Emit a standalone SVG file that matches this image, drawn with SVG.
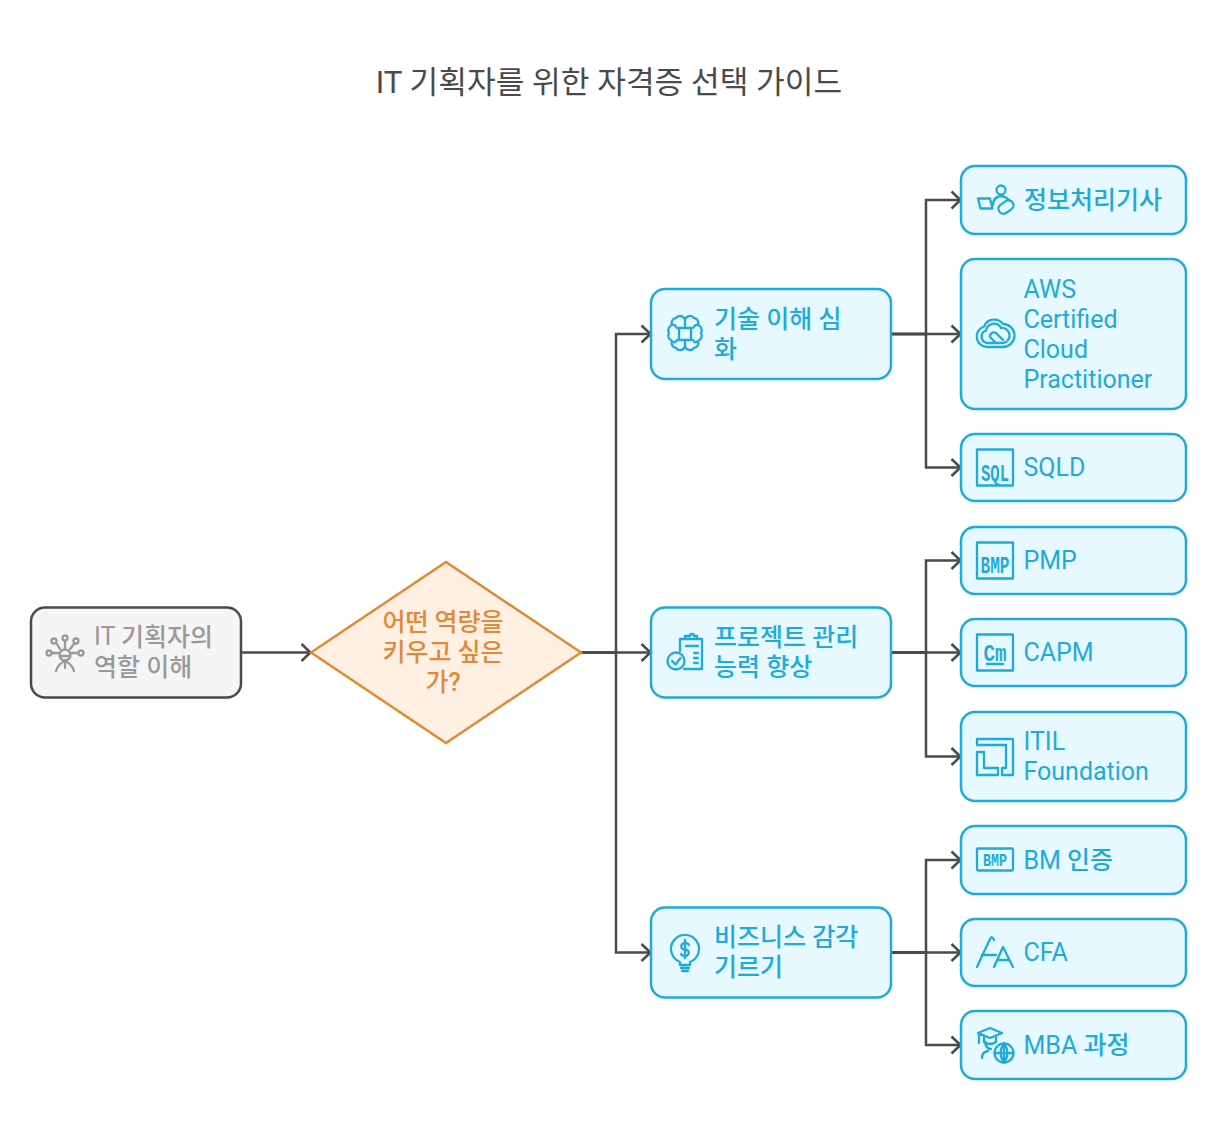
<svg xmlns="http://www.w3.org/2000/svg" width="1218" height="1140" viewBox="0 0 1218 1140">
<style>
text{font-family:Roboto,"Noto Sans CJK KR",sans-serif;font-size:25px}
.title{font-size:31.200px;fill:#4a4a4a;text-anchor:middle}
.k{font-weight:500}
.b{fill:#e7f8ff;stroke:#1eabda;stroke-width:2.500}
.bt{fill:#1eabda}
.i{fill:none;stroke:#1eabda;stroke-width:2.300;stroke-linecap:round;stroke-linejoin:round}
.g{fill:none;stroke:#999;stroke-width:2.300;stroke-linecap:round;stroke-linejoin:round}
.c{fill:none;stroke:#4a4a4a;stroke-width:2.500}
.ic{font-family:"Liberation Mono",monospace;font-weight:700;fill:#1eabda}
</style>
<defs>
<marker id="a" markerUnits="userSpaceOnUse" markerWidth="14" markerHeight="22" refX="11" refY="11" orient="auto" overflow="visible"><path d="M1.500 2.500 L10.500 11 L1.500 19.500" fill="none" stroke="#4a4a4a" stroke-width="2.500"/></marker>
</defs>
<text class="title" x="609" y="93">IT 기획자를 위한 자격증 선택 가이드</text>
<g id="connectors">
<path class="c" marker-end="url(#a)" d="M241 652.500H311"/>
<path class="c" marker-end="url(#a)" d="M581 652.500H616V334H651"/>
<path class="c" marker-end="url(#a)" d="M581 652.500H651"/>
<path class="c" marker-end="url(#a)" d="M581 652.500H616V952.500H651"/>
<path class="c" marker-end="url(#a)" d="M891 334H926V200H961"/>
<path class="c" marker-end="url(#a)" d="M891 334H961"/>
<path class="c" marker-end="url(#a)" d="M891 334H926V467.500H961"/>
<path class="c" marker-end="url(#a)" d="M891 652.500H926V560.500H961"/>
<path class="c" marker-end="url(#a)" d="M891 652.500H961"/>
<path class="c" marker-end="url(#a)" d="M891 652.500H926V756.500H961"/>
<path class="c" marker-end="url(#a)" d="M891 952.500H926V860H961"/>
<path class="c" marker-end="url(#a)" d="M891 952.500H961"/>
<path class="c" marker-end="url(#a)" d="M891 952.500H926V1045H961"/>
</g>
<g id="n-role">
<rect x="31" y="607.500" width="210" height="90" rx="14" fill="#f5f5f5" stroke="#4a4a4a" stroke-width="2.500"/>
<g class="g"><circle cx="65" cy="655" r="5.500"/><path d="M56 671Q58 664 65 661Q72 664 74 671M60 656H70M65 661V668"/><circle cx="54" cy="641" r="2.500"/><circle cx="65" cy="638" r="2.500"/><circle cx="76" cy="641" r="2.500"/><circle cx="49" cy="653" r="2.500"/><circle cx="81" cy="653" r="2.500"/><path d="M57 644L60 649M65 641V648M74 644L70 649M52 653H59M78 653H71"/></g>
<text x="94" y="645" fill="#999">IT <tspan class="k" dy="1">기획자의</tspan></text>
<text class="k" x="94" y="676" fill="#999">역할 이해</text>
</g>
<g id="n-decision">
<path d="M311 652.500L446 562L581 652.500L446 743Z" fill="#fff0e3" stroke="#e08a32" stroke-width="2.500"/>
<g class="k" fill="#e08a38" text-anchor="middle"><text x="443" y="631">어떤 역량을</text><text x="443" y="661">키우고 싶은</text><text x="443" y="691">가?</text></g>
</g>
<g id="n-tech">
<rect class="b" x="651" y="289" width="240" height="90" rx="14"/>
<g class="i"><rect x="679" y="328" width="12" height="12"/><path d="M685 320a5 5 0 0 0 -9 -2a5 5 0 0 0 -4 7a5.500 5.500 0 0 0 -3 8a5.500 5.500 0 0 0 3 8a5 5 0 0 0 4 7a5 5 0 0 0 9 -2a5 5 0 0 0 9 2a5 5 0 0 0 4 -7a5.500 5.500 0 0 0 3 -8a5.500 5.500 0 0 0 -3 -8a5 5 0 0 0 -4 -7a5 5 0 0 0 -9 2ZM685 320V328M685 340V348M677 328Q675 324 672 325M693 328Q695 324 698 325M677 340Q675 344 672 341M693 340Q695 344 698 341"/></g>
<text class="bt k" x="714" y="328">기술 이해 심</text><text class="bt k" x="714" y="358">화</text>
</g>
<g id="n-pm">
<rect class="b" x="651" y="607.500" width="240" height="90" rx="14"/>
<g class="i"><path d="M680 651V639H702V669H684M685 639V636H690a2 2 0 0 1 4 0H697V639H685ZM686 646H698M694 653H698M694 658H698M694 663H698"/><circle cx="676" cy="661" r="8.500"/><path d="M672 661L675.500 664.500L680.500 658"/></g>
<text class="bt k" x="714" y="646">프로젝트 관리</text><text class="bt k" x="714" y="676">능력 향상</text>
</g>
<g id="n-biz">
<rect class="b" x="651" y="907.500" width="240" height="90" rx="14"/>
<g class="i"><path d="M680 962A14 14 0 1 1 690 962V965H680ZM681 968H689M682 971H688"/><path d="M689 945a4 3 0 0 0 -4 -2a3.500 3 0 0 0 0 6.500a3.500 3 0 0 1 0 6.500a4 3 0 0 1 -4 -2M685 940V958"/></g>
<text class="bt k" x="714" y="946">비즈니스 감각</text><text class="bt k" x="714" y="976">기르기</text>
</g>
<g id="n-engineer">
<rect class="b" x="961" y="166" width="225" height="68" rx="14"/>
<g class="i"><path d="M978 198.500H990L992.500 208.500H980.500Z"/><circle cx="1001" cy="190" r="4.500"/><path d="M993 205Q993 197 1001 196Q1007 197 1010 201"/><rect x="998" y="202" width="16" height="10" rx="5" transform="rotate(-35 1006 207)"/></g>
<text class="bt k" x="1024" y="209">정보처리기사</text>
</g>
<g id="n-aws">
<rect class="b" x="961" y="259" width="225" height="150" rx="14"/>
<g class="i"><path d="M987 347A10.500 10.500 0 0 1 984 326.500A11 11 0 0 1 1003 324A11.500 11.500 0 0 1 1003 347Z"/><path d="M987 343A6.500 6.500 0 0 1 986 330.500A8 8 0 0 1 1001 328A7.500 7.500 0 0 1 1003 343Z"/><path d="M996 343L990 337a4 4 0 0 1 6 -4L1003 340"/></g>
<text class="bt" x="1023.500" y="298">AWS</text><text class="bt" x="1023.500" y="328">Certified</text><text class="bt" x="1023.500" y="358">Cloud</text><text class="bt" x="1023.500" y="388">Practitioner</text>
</g>
<g id="n-sqld">
<rect class="b" x="961" y="434" width="225" height="67" rx="14"/>
<rect class="i" x="977" y="449.500" width="36" height="36"/>
<text class="ic" x="995" y="481" text-anchor="middle" textLength="28" lengthAdjust="spacingAndGlyphs" style="font-size:23px">SQL</text>
<text class="bt" x="1023.500" y="476">SQLD</text>
</g>
<g id="n-pmp">
<rect class="b" x="961" y="527" width="225" height="67" rx="14"/>
<rect class="i" x="977" y="542.500" width="36" height="36"/>
<text class="ic" x="995" y="573" text-anchor="middle" textLength="29" lengthAdjust="spacingAndGlyphs" style="font-size:23px">BMP</text>
<text class="bt" x="1023.500" y="569">PMP</text>
</g>
<g id="n-capm">
<rect class="b" x="961" y="619" width="225" height="67" rx="14"/>
<rect class="i" x="977" y="634.500" width="36" height="36"/>
<text class="ic" x="995" y="661" text-anchor="middle" textLength="23" lengthAdjust="spacingAndGlyphs" style="font-size:23px">Cm</text>
<path class="i" d="M987 664H1003"/>
<text class="bt" x="1023.500" y="661">CAPM</text>
</g>
<g id="n-itil">
<rect class="b" x="961" y="712" width="225" height="89" rx="14"/>
<path class="i" d="M977 739H1013V775H1002V768H1006V745H977ZM977 752H984V768H998V775H977Z"/>
<text class="bt" x="1023.500" y="750">ITIL</text><text class="bt" x="1023.500" y="780">Foundation</text>
</g>
<g id="n-bm">
<rect class="b" x="961" y="826" width="225" height="68" rx="14"/>
<rect class="i" x="977" y="848.500" width="36" height="22" rx="1"/>
<text class="ic" x="995" y="866" text-anchor="middle" textLength="24" lengthAdjust="spacingAndGlyphs" style="font-size:18px">BMP</text>
<text class="bt" x="1023.500" y="869">BM <tspan class="k">인증</tspan></text>
</g>
<g id="n-cfa">
<rect class="b" x="961" y="919" width="225" height="67" rx="14"/>
<path class="i" d="M977 967L990 939Q992 935 994 940M982 955H996M994 967L1003 947L1013 967M998 960H1009"/>
<text class="bt" x="1023.500" y="961">CFA</text>
</g>
<g id="n-mba">
<rect class="b" x="961" y="1011" width="225" height="68" rx="14"/>
<g class="i"><path d="M978 1033L990 1028L1002 1033L990 1038ZM984 1036V1042Q990 1046 996 1042V1036M979 1034V1043M985 1042Q986 1049 991 1049M982 1058Q982 1052 988 1051"/><circle cx="1004" cy="1053" r="9.500"/><path d="M994.500 1053H1013.500M1004 1043.500V1062.500M1004 1043.500Q997 1053 1004 1062.500M1004 1043.500Q1011 1053 1004 1062.500"/></g>
<text class="bt" x="1023.500" y="1054">MBA <tspan class="k">과정</tspan></text>
</g>
</svg>
